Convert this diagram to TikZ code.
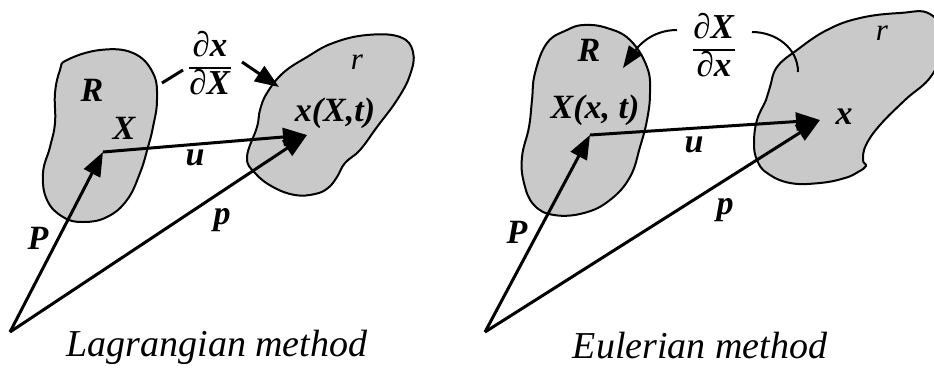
\documentclass[tikz,border=0pt]{standalone}
\usepackage{fontspec}
\setmainfont{Liberation Serif}
\usetikzlibrary{arrows.meta}
\begin{document}
\begin{tikzpicture}[x=1pt,y=-1pt,
  blob/.style={draw=black,line width=2pt,fill=black!21,smooth cycle,tension=0.7},
  vec/.style={line width=3pt,-{Triangle[length=24pt,width=18pt]}},
  thinarc/.style={line width=2pt},
  lbl/.style={inner sep=0pt,font=\fontsize{34}{40}\selectfont\bfseries\itshape},
  rlbl/.style={inner sep=0pt,font=\fontsize{31}{36}\selectfont\itshape},
  frac/.style={inner sep=0pt,font=\fontsize{35}{38}\selectfont},
  captxt/.style={inner sep=0pt,font=\fontsize{38}{44}\selectfont\itshape}]
\useasboundingbox (0,0) rectangle (934,367);
% ---------- Lagrangian ----------
\draw[blob] plot coordinates {(67,60) (100,50) (133,53) (153,73) (157,100) (153,127) (148,147) (140,173) (127,200) (107,217) (83,222) (63,217) (47,200) (43,173) (50,147) (55,123) (55,93) (60,70)};
\draw[blob] plot coordinates {(247,157) (257,127) (260,110) (267,93) (283,73) (307,57) (333,43) (367,35) (400,37) (413,52) (410,75) (397,100) (377,127) (360,150) (345,163) (337,177) (328,188) (315,194) (295,195) (273,187) (255,173)};
\coordinate (O1) at (10,332);
\coordinate (X1) at (103,152);
\coordinate (x1) at (307,135);
\draw[vec] (O1) -- (X1);
\draw[vec] (X1) -- (x1);
\draw[vec] (O1) -- (x1);
\node[lbl] (R1) at (92,90) {R};
\node[lbl] (XL1) at (124,128) {X};
\node[lbl] (u1) at (195,158) {u};
\node[lbl] (P1) at (38,238) {P};
\node[lbl] (p1) at (222,220) {p};
\node[lbl] (xL1) at (335,113) {x(X,t)};
\node[rlbl] (r1) at (357,62) {r};
\node[frac] (f1) at (210,68) {\arrayrulewidth=1.6pt\renewcommand\arraystretch{0.92}\begin{tabular}{@{}c@{}}∂\textbf{\textit{x}}\\\hline ∂\textbf{\textit{X}}\end{tabular}};
\coordinate (d1a) at (162,83);
\coordinate (d1b) at (183,70);
\coordinate (a1a) at (242,62);
\coordinate (a1b) at (279,87);
\draw[line width=3pt] (d1a) -- (d1b);
\draw[vec] (a1a) -- (a1b);
\node[captxt] (c1) at (217,347) {Lagrangian method};
% ---------- Eulerian ----------
\draw[blob] plot coordinates {(567,30) (584,25) (607,28) (630,40) (647,67) (650,93) (647,120) (640,147) (630,177) (610,200) (584,213) (554,215) (534,205) (524,183) (522,157) (529,127) (532,100) (535,73) (547,43)};
\draw[blob] plot coordinates {(754,143) (757,120) (766,100) (770,87) (777,67) (797,50) (827,30) (860,18) (900,13) (930,14) (945,40) (932,75) (905,100) (880,125) (866,145) (863,160) (866,166) (858,172) (845,178) (820,183) (790,183) (767,173) (757,160)};
\coordinate (O2) at (485,332);
\coordinate (X2) at (590,135);
\coordinate (x2) at (820,120);
\draw[vec] (O2) -- (X2);
\draw[vec] (X2) -- (x2);
\draw[vec] (O2) -- (x2);
\node[lbl] (R2) at (589,50) {R};
\node[lbl] (XL2) at (595,110) {X(x, t)};
\node[lbl] (u2) at (694,145) {u};
\node[lbl] (P2) at (517,232) {P};
\node[lbl] (p2) at (725,210) {p};
\node[lbl] (xL2) at (844,117) {x};
\node[rlbl] (r2) at (882,33) {r};
\node[frac] (f2) at (714,50) {\arrayrulewidth=1.6pt\renewcommand\arraystretch{0.92}\begin{tabular}{@{}c@{}}∂\textbf{\textit{X}}\\\hline ∂\textbf{\textit{x}}\end{tabular}};
\coordinate (a2a) at (677,30);
\coordinate (a2b) at (623,68);
\coordinate (b2a) at (752,32);
\coordinate (b2b) at (798,72);
\draw[thinarc,-{Triangle[length=22pt,width=16pt]}] (a2a) to[out=180,in=55] (a2b);
\draw[thinarc] (b2a) to[out=0,in=90] (b2b);
\node[captxt] (c2) at (700,346) {Eulerian method};
\end{tikzpicture}
\end{document}
